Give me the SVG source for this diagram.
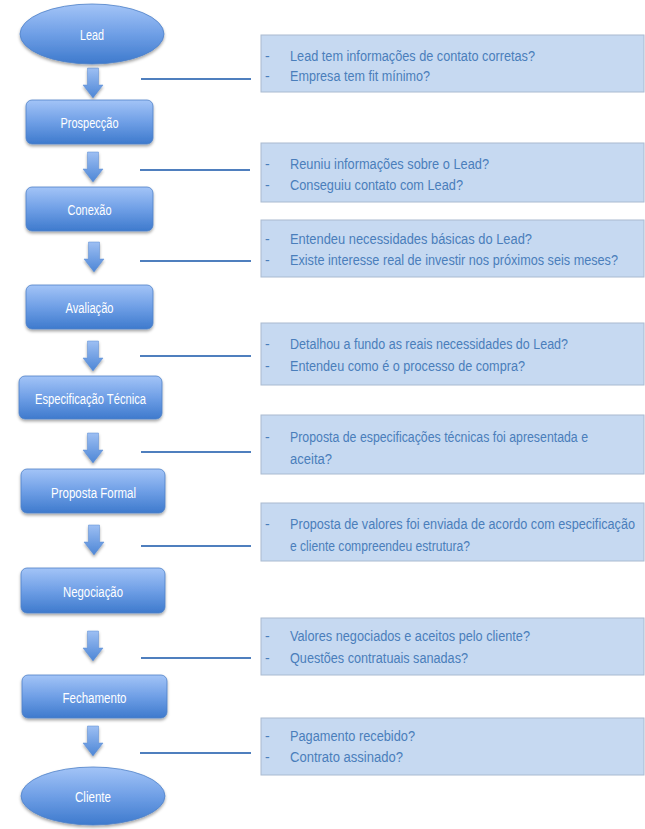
<svg xmlns="http://www.w3.org/2000/svg" width="645" height="829" viewBox="0 0 645 829">
<defs>
<linearGradient id="ng" x1="0" y1="0" x2="0" y2="1">
<stop offset="0" stop-color="#A3C4F7"/>
<stop offset="0.5" stop-color="#6F9FE6"/>
<stop offset="1" stop-color="#3E7ACD"/>
</linearGradient>
<linearGradient id="ag" x1="0" y1="0" x2="0" y2="1">
<stop offset="0" stop-color="#9DBFF3"/>
<stop offset="1" stop-color="#4D86D6"/>
</linearGradient>
<filter id="sh" x="-10%" y="-10%" width="120%" height="140%">
<feDropShadow dx="0" dy="2" stdDeviation="1.5" flood-color="#000" flood-opacity="0.35"/>
</filter>
<path id="arr" d="M-5.5,0 H5.5 V17 H10 L0,30 L-10,17 H-5.5 Z"/>
</defs>
<style>
.node{fill:url(#ng);stroke:#4F82C8;stroke-width:0.8;filter:url(#sh)}
.nt{font-family:"Liberation Sans",Arial,sans-serif;font-size:14px;fill:#fff;text-anchor:middle}
.box{fill:#C6D9F1;stroke:#A9BAD0;stroke-width:1}
.bt{font-family:"Liberation Sans",Arial,sans-serif;font-size:14px;fill:#4A7EBB}
.ln{stroke:#4F7FBE;stroke-width:2}
.ar{fill:url(#ag);stroke:#5A8AD0;stroke-width:0.5;filter:url(#sh)}
</style>
<rect width="645" height="829" fill="#fff"/>

<g id="connectors">
<use href="#arr" class="ar" transform="translate(93,68)"/>
<use href="#arr" class="ar" transform="translate(93,152)"/>
<use href="#arr" class="ar" transform="translate(94,242)"/>
<use href="#arr" class="ar" transform="translate(93,341)"/>
<use href="#arr" class="ar" transform="translate(93,433)"/>
<use href="#arr" class="ar" transform="translate(94,525)"/>
<use href="#arr" class="ar" transform="translate(93,631)"/>
<use href="#arr" class="ar" transform="translate(93,726)"/>
<line class="ln" x1="141" y1="79" x2="251" y2="79"/>
<line class="ln" x1="140" y1="170" x2="250" y2="170"/>
<line class="ln" x1="140" y1="261" x2="251" y2="261"/>
<line class="ln" x1="140" y1="356" x2="251" y2="356"/>
<line class="ln" x1="141" y1="452" x2="251" y2="452"/>
<line class="ln" x1="141" y1="546" x2="251" y2="546"/>
<line class="ln" x1="141" y1="658" x2="251" y2="658"/>
<line class="ln" x1="140" y1="753" x2="251" y2="753"/>
</g>

<g id="lead"><ellipse class="node" cx="92" cy="34" rx="72" ry="30"/><text class="nt" x="92" y="40" textLength="24" lengthAdjust="spacingAndGlyphs">Lead</text></g>
<g id="prospeccao"><rect class="node" x="26" y="100" width="127" height="44" rx="6"/><text class="nt" x="89.5" y="128" textLength="58" lengthAdjust="spacingAndGlyphs">Prospecção</text></g>
<g id="conexao"><rect class="node" x="26" y="187" width="127" height="44" rx="6"/><text class="nt" x="89.5" y="215" textLength="44" lengthAdjust="spacingAndGlyphs">Conexão</text></g>
<g id="avaliacao"><rect class="node" x="26" y="285" width="127" height="44" rx="6"/><text class="nt" x="89.5" y="313" textLength="48" lengthAdjust="spacingAndGlyphs">Avaliação</text></g>
<g id="especificacao"><rect class="node" x="19" y="376" width="143" height="43" rx="6"/><text class="nt" x="90.5" y="404" textLength="111" lengthAdjust="spacingAndGlyphs">Especificação Técnica</text></g>
<g id="proposta"><rect class="node" x="21" y="469" width="144" height="44" rx="6"/><text class="nt" x="93.5" y="498" textLength="85" lengthAdjust="spacingAndGlyphs">Proposta Formal</text></g>
<g id="negociacao"><rect class="node" x="21" y="568" width="144" height="45" rx="6"/><text class="nt" x="93" y="597" textLength="60" lengthAdjust="spacingAndGlyphs">Negociação</text></g>
<g id="fechamento"><rect class="node" x="22" y="675" width="145" height="43" rx="6"/><text class="nt" x="94.5" y="703" textLength="64" lengthAdjust="spacingAndGlyphs">Fechamento</text></g>
<g id="cliente"><ellipse class="node" cx="93" cy="796" rx="72" ry="29"/><text class="nt" x="93" y="802" textLength="36" lengthAdjust="spacingAndGlyphs">Cliente</text></g>

<g id="q1"><rect class="box" x="261" y="35" width="383" height="57"/>
<text class="bt" x="265" y="60.5">-</text><text class="bt" x="290" y="60.5" textLength="245" lengthAdjust="spacingAndGlyphs">Lead tem informações de contato corretas?</text>
<text class="bt" x="265" y="80.5">-</text><text class="bt" x="290" y="80.5" textLength="140" lengthAdjust="spacingAndGlyphs">Empresa tem fit mínimo?</text></g>
<g id="q2"><rect class="box" x="261" y="143" width="383" height="59"/>
<text class="bt" x="265" y="168.5">-</text><text class="bt" x="290" y="168.5" textLength="199" lengthAdjust="spacingAndGlyphs">Reuniu informações sobre o Lead?</text>
<text class="bt" x="265" y="189.5">-</text><text class="bt" x="290" y="189.5" textLength="173" lengthAdjust="spacingAndGlyphs">Conseguiu contato com Lead?</text></g>
<g id="q3"><rect class="box" x="261" y="220" width="383" height="57"/>
<text class="bt" x="265" y="244">-</text><text class="bt" x="290" y="244" textLength="242" lengthAdjust="spacingAndGlyphs">Entendeu necessidades básicas do Lead?</text>
<text class="bt" x="265" y="265">-</text><text class="bt" x="290" y="265" textLength="328" lengthAdjust="spacingAndGlyphs">Existe interesse real de investir nos próximos seis meses?</text></g>
<g id="q4"><rect class="box" x="261" y="323" width="383" height="62"/>
<text class="bt" x="265" y="349">-</text><text class="bt" x="290" y="349" textLength="278" lengthAdjust="spacingAndGlyphs">Detalhou a fundo as reais necessidades do Lead?</text>
<text class="bt" x="265" y="371">-</text><text class="bt" x="290" y="371" textLength="235" lengthAdjust="spacingAndGlyphs">Entendeu como é o processo de compra?</text></g>
<g id="q5"><rect class="box" x="261" y="415" width="383" height="59"/>
<text class="bt" x="265" y="442">-</text><text class="bt" x="290" y="442" textLength="298" lengthAdjust="spacingAndGlyphs">Proposta de especificações técnicas foi apresentada e</text>
<text class="bt" x="290" y="464" textLength="42" lengthAdjust="spacingAndGlyphs">aceita?</text></g>
<g id="q6"><rect class="box" x="261" y="503" width="383" height="58"/>
<text class="bt" x="265" y="529">-</text><text class="bt" x="290" y="529" textLength="345" lengthAdjust="spacingAndGlyphs">Proposta de valores foi enviada de acordo com especificação</text>
<text class="bt" x="290" y="551" textLength="180" lengthAdjust="spacingAndGlyphs">e cliente compreendeu estrutura?</text></g>
<g id="q7"><rect class="box" x="261" y="618" width="383" height="57"/>
<text class="bt" x="265" y="641">-</text><text class="bt" x="290" y="641" textLength="240" lengthAdjust="spacingAndGlyphs">Valores negociados e aceitos pelo cliente?</text>
<text class="bt" x="265" y="663">-</text><text class="bt" x="290" y="663" textLength="178" lengthAdjust="spacingAndGlyphs">Questões contratuais sanadas?</text></g>
<g id="q8"><rect class="box" x="261" y="718" width="383" height="57"/>
<text class="bt" x="265" y="741">-</text><text class="bt" x="290" y="741" textLength="125" lengthAdjust="spacingAndGlyphs">Pagamento recebido?</text>
<text class="bt" x="265" y="762">-</text><text class="bt" x="290" y="762" textLength="113" lengthAdjust="spacingAndGlyphs">Contrato assinado?</text></g>
</svg>
